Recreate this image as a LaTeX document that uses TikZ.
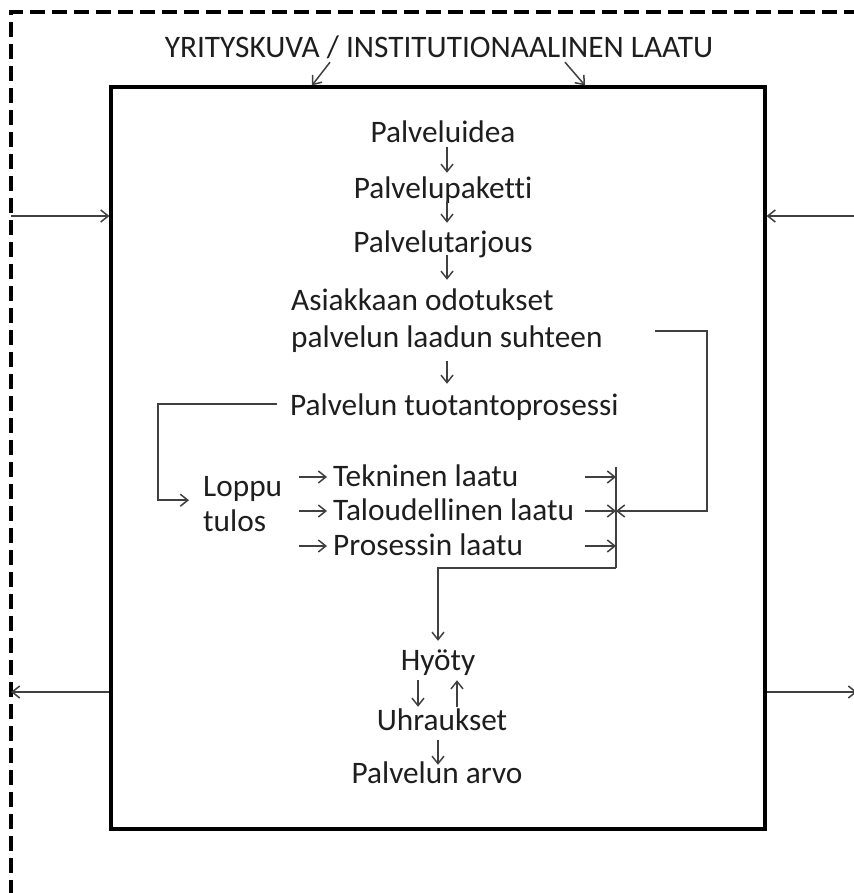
\documentclass[tikz,border=0pt]{standalone}
\usepackage{fontspec}
\setmainfont{Carlito}[Ligatures=NoCommon]
\usetikzlibrary{arrows.meta,calc}
\definecolor{lncol}{RGB}{64,64,64}
\definecolor{txcol}{RGB}{30,30,30}
\begin{document}
\begin{tikzpicture}[x=1pt,y=-1pt,
  txt/.style={font=\fontsize{31.3}{37}\selectfont, text=txcol, inner sep=0pt, text height=21pt, text depth=0pt},
  thinline/.style={draw=lncol, line width=1.5pt},
  arr/.style={thinline, -{Straight Barb[length=7.5pt,width=12pt]}},
  frame/.style={line width=3.5pt, dash pattern=on 15pt off 7pt},
  mainbox/.style={draw, line width=3.2pt, minimum width=654pt, minimum height=742pt, inner sep=0pt}
]
\useasboundingbox (0,0) rectangle (853,893);
% outer dashed frame
\draw[frame] (11,895) rectangle (880,12);
% main box
\node[mainbox] (box) at (438,458) {};
% texts
\node[txt, anchor=base] (title) at (439,58) {YRITYSKUVA / INSTITUTIONAALINEN LAATU};
\node[txt, anchor=base] (idea) at (443,143) {Palveluidea};
\node[txt, anchor=base] (paketti) at (443,199) {Palvelupaketti};
\node[txt, anchor=base] (tarjous) at (443,252) {Palvelutarjous};
\node[txt, anchor=base west] (asiak) at (291,310) {Asiakkaan odotukset};
\node[txt, anchor=base west] (suhteen) at (291,347) {palvelun laadun suhteen};
\node[txt, anchor=base west] (tuotanto) at (290,415) {Palvelun tuotantoprosessi};
\node[txt, anchor=base west] (loppu) at (203,496) {Loppu};
\node[txt, anchor=base west] (tulos) at (203,531) {tulos};
\node[txt, anchor=base west] (tek) at (333,486) {Tekninen laatu};
\node[txt, anchor=base west] (tal) at (333,520) {Taloudellinen laatu};
\node[txt, anchor=base west] (pros) at (333,555) {Prosessin laatu};
\node[txt, anchor=base] (hyoty) at (438,670) {Hyöty};
\node[txt, anchor=base] (uhr) at (442,730) {Uhraukset};
\node[txt, anchor=base] (arvo) at (437,783) {Palvelun arvo};
% collecting bar
\node[inner sep=0pt, minimum width=0pt, minimum height=101pt] (bar) at (616,517.5) {};
\draw[thinline] (bar.north) -- (bar.south);
% title arrows
\draw[arr] ($(title.south)+(-109,4)$) -- ($(box.north)+(-126,0)$);
\draw[arr] ($(title.south)+(126,4)$) -- ($(box.north)+(147,0)$);
% side arrows
\coordinate (fl1) at (11,216);
\coordinate (fr1) at (860,216);
\coordinate (fl2) at (11,692);
\coordinate (fr2) at (857,692);
\draw[arr] (fl1) -- (fl1 -| box.west);
\draw[arr] (fr1) -- (fr1 -| box.east);
\draw[arr] (fl2 -| box.west) -- (fl2);
\draw[arr] (fr2 -| box.east) -- (fr2);
% central chain
\draw[arr, shorten <=4pt, shorten >=5pt] ($(idea.south)+(4,0)$) -- ($(paketti.north)+(4,0)$);
\draw[arr, shorten <=2pt, shorten >=8pt] ($(paketti.south)+(4,0)$) -- ($(tarjous.north)+(4,0)$);
\draw[arr, shorten <=3pt, shorten >=9pt] ($(tarjous.south)+(4,0)$) -- ($(tarjous.south |- asiak.north)+(4,0)$);
\draw[arr, shorten <=14pt, shorten >=10pt] ($(tarjous.south |- suhteen.south)+(4,0)$) -- ($(tarjous.south |- tuotanto.north)+(4,0)$);
% production process to end result
\draw[arr] ($(tuotanto.west)+(-13,-0.5)$) -- ++(-119,0) |- ($(loppu.south west)+(-14,4)$);
% end result to quality dimensions
\draw[arr] ($(tek.west)+(-34,1.5)$) -- ($(tek.west)+(-6,1.5)$);
\draw[arr] ($(tal.west)+(-34,1.5)$) -- ($(tal.west)+(-6,1.5)$);
\draw[arr] ($(pros.west)+(-34,1.5)$) -- ($(pros.west)+(-6,1.5)$);
% quality dimensions to bar
\draw[arr] ($(tek.east -| bar.center)+(-31,1.5)$) -- ($(tek.east -| bar.center)+(0,1.5)$);
\draw[arr] ($(tal.east -| bar.center)+(-31,1.5)$) -- ($(tal.east -| bar.center)+(0,1.5)$);
\draw[arr] ($(pros.east -| bar.center)+(-31,1.5)$) -- ($(pros.east -| bar.center)+(0,1.5)$);
% expectations bracket
\draw[arr] ($(suhteen.east -| bar.center)+(39,-5.5)$) -- ++(52,0) |- ($(tal.east -| bar.center)+(0,1.5)$);
% bar to benefit
\draw[arr, shorten >=8pt] (bar.south) -| (hyoty.north);
% benefit / sacrifices
\draw[arr, shorten <=10pt, shorten >=2pt] ($(hyoty.south)+(-20,0)$) -- ($(uhr.north)+(-24,0)$);
\draw[arr, shorten <=2pt, shorten >=10pt] ($(uhr.north)+(15,0)$) -- ($(hyoty.south)+(19,0)$);
\draw[arr, shorten <=10pt, shorten >=-3pt] ($(uhr.south)+(-4,0)$) -- ($(arvo.north)+(1,0)$);
\end{tikzpicture}
\end{document}
